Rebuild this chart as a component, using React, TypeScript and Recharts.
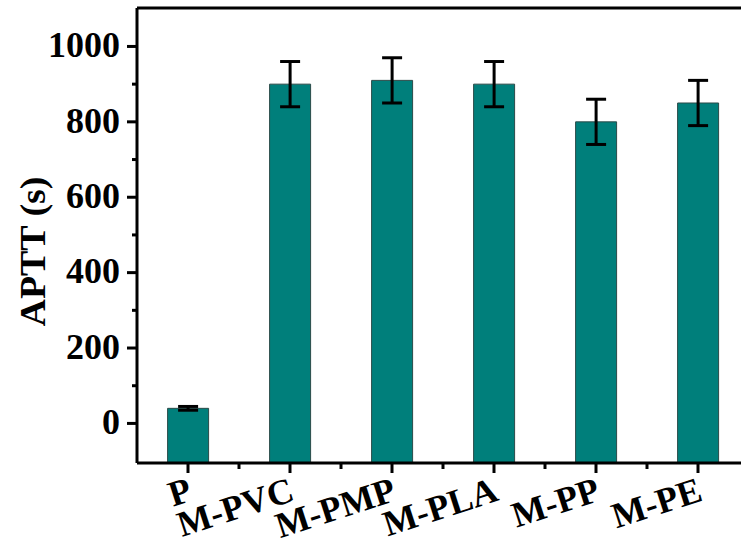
import { BarChart, Bar, XAxis, YAxis, ErrorBar, ReferenceLine } from 'recharts';

const samples = ['P', 'M-PVC', 'M-PMP', 'M-PLA', 'M-PP', 'M-PE'];
const aptt = [40, 900, 910, 900, 800, 850];
const apttErr = [5, 60, 60, 60, 60, 60];

const yTicks = [0, 100, 200, 300, 400, 500, 600, 700, 800, 900, 1000];
const yMin = -105;
const yMax = 1102;

const data = samples.map((name, i) => ({ name, aptt: aptt[i], err: apttErr[i] }));

const FONT = '"Liberation Serif", "Times New Roman", serif';
const CHART_W = 770;
const CHART_H = 554;
const Y_AXIS_W = 137;
const RIGHT = 21;

// half the category band, for the minor ticks between bars
const halfBand = (CHART_W - Y_AXIS_W - RIGHT) / samples.length / 2;

const YTick = (props: any) => {
  const { x, y, payload } = props;
  const major = payload.value % 200 === 0;
  return (
    <g>
      <line x1={x} x2={x - (major ? 10 : 5)} y1={y} y2={y} stroke="#000" strokeWidth={3} />
      {major && (
        <text
          x={x - 17}
          y={y}
          dy="0.3em"
          textAnchor="end"
          fontFamily={FONT}
          fontWeight="bold"
          fontSize={36}
          fill="#000"
        >
          {payload.value}
        </text>
      )}
    </g>
  );
};

const XTick = (props: any) => {
  const { x, y, payload } = props;
  return (
    <g>
      <line x1={x} x2={x} y1={y} y2={y + 10} stroke="#000" strokeWidth={3} />
      <line x1={x + halfBand} x2={x + halfBand} y1={y} y2={y + 6} stroke="#000" strokeWidth={3} />
      <text
        x={x + 6}
        y={y + 37}
        textAnchor="end"
        transform={`rotate(-18, ${x + 6}, ${y + 37})`}
        fontFamily={FONT}
        fontWeight="bold"
        fontSize={36}
        fill="#000"
      >
        {payload.value}
      </text>
    </g>
  );
};

const renderYLabel = (props: any) => {
  const { viewBox } = props;
  const cx = 45;
  const cy = viewBox.y + viewBox.height / 2 + 16;
  return (
    <text
      x={cx}
      y={cy}
      transform={`rotate(-90, ${cx}, ${cy})`}
      textAnchor="middle"
      textLength={150}
      lengthAdjust="spacingAndGlyphs"
      style={{ fontFamily: FONT, fontWeight: 'bold', fontSize: 36, fill: '#000' }}
    >
      APTT (s)
    </text>
  );
};

export default function App() {
  return (
    <div
      style={{
        position: 'absolute',
        left: 0,
        top: 0,
        width: 741,
        height: 554,
        overflow: 'hidden',
        background: '#fff',
      }}
    >
      <BarChart
        width={CHART_W}
        height={CHART_H}
        data={data}
        margin={{ top: 8, right: RIGHT, bottom: 0, left: 0 }}
        barCategoryGap="30%"
      >
        <XAxis
          dataKey="name"
          height={91}
          axisLine={{ stroke: '#000', strokeWidth: 3 }}
          tickLine={false}
          tickSize={0}
          tickMargin={0}
          interval={0}
          tick={<XTick />}
        />
        {/* hidden twin axis so the error-bar series sits on top of the bars */}
        <XAxis xAxisId="err" dataKey="name" hide />
        <YAxis
          width={Y_AXIS_W}
          domain={[yMin, yMax]}
          ticks={yTicks}
          allowDataOverflow
          axisLine={{ stroke: '#000', strokeWidth: 3 }}
          tickLine={false}
          tickSize={0}
          tickMargin={0}
          interval={0}
          tick={<YTick />}
          label={{ content: renderYLabel }}
        />
        <ReferenceLine y={yMax} stroke="#000" strokeWidth={3} />
        {/* bars are drawn up from the bottom of the axis, not from zero */}
        <Bar
          dataKey={(d: any) => [yMin, d.aptt]}
          fill="#007F7B"
          stroke="#2b4a48"
          strokeWidth={1}
          isAnimationActive={false}
        />
        <Bar xAxisId="err" dataKey="aptt" fill="none" stroke="none" isAnimationActive={false}>
          <ErrorBar dataKey="err" width={10} stroke="#000" strokeWidth={3} isAnimationActive={false} />
        </Bar>
      </BarChart>
    </div>
  );
}
